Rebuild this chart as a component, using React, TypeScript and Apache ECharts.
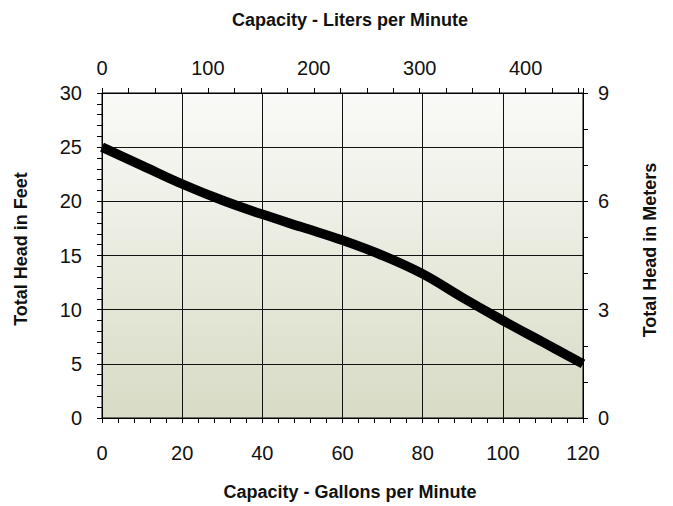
import React, { useEffect, useRef } from "react";
import * as echarts from "echarts";

const gpm = [0, 10, 20, 30, 40, 50, 60, 70, 80, 90, 100, 110, 120];
const feet = [25, 23.3, 21.6, 20.1, 18.8, 17.6, 16.4, 15.0, 13.3, 11.1, 9.0, 7.0, 5.0];

const gpmTicks = { min: 0, max: 120, interval: 20 };
const feetTicks = { min: 0, max: 30, interval: 5 };
const meterTicks = { min: 0, max: 9, interval: 3 };
const literTicks = { min: 0, max: 454.2, interval: 100 };

const titles = {
  top: "Capacity - Liters per Minute",
  bottom: "Capacity - Gallons per Minute",
  left: "Total Head in Feet",
  right: "Total Head in Meters",
};

const FONT = "'Liberation Sans', Arial, Helvetica, sans-serif";
const TITLE_FONT = `bold 18px ${FONT}`;

export default function App() {
  const ref = useRef<HTMLDivElement>(null);
  useEffect(() => {
    if (!ref.current) return;
    const chart = echarts.init(ref.current, null, { renderer: "svg" });
    const axisCommon = {
      axisLine: { show: true, onZero: false, lineStyle: { color: "#000", width: 1 } },
      axisTick: { show: true, inside: false, length: 5, lineStyle: { color: "#000", width: 1 } },
      minorTick: { show: true, length: 5, lineStyle: { color: "#000", width: 1 } },
      axisLabel: { color: "#111", fontSize: 20, fontFamily: FONT },
    };
    const titleText = (text: string, x: number, y: number, rotation: number) => ({
      type: "text",
      x,
      y,
      rotation,
      style: {
        text,
        font: TITLE_FONT,
        fill: "#111",
        align: "center",
        verticalAlign: "middle",
      },
    });
    chart.setOption({
      animation: false,
      backgroundColor: "#fff",
      textStyle: { fontFamily: FONT },
      grid: {
        left: 102,
        right: 90,
        top: 93,
        bottom: 88,
        show: true,
        borderColor: "#000",
        borderWidth: 1,
        backgroundColor: new echarts.graphic.LinearGradient(0, 0, 0, 1, [
          { offset: 0, color: "#fafaf8" },
          { offset: 1, color: "#d8dbc5" },
        ]),
      },
      graphic: [
        titleText(titles.top, 350, 20, 0),
        titleText(titles.bottom, 350, 492, 0),
        titleText(titles.left, 21, 249, Math.PI / 2),
        titleText(titles.right, 650, 250, Math.PI / 2),
      ],
      xAxis: [
        {
          ...axisCommon,
          type: "value",
          position: "bottom",
          min: gpmTicks.min,
          max: gpmTicks.max,
          interval: gpmTicks.interval,
          minorTick: { ...axisCommon.minorTick, splitNumber: 5 },
          splitLine: { show: true, lineStyle: { color: "#111", width: 1 } },
          axisLabel: { ...axisCommon.axisLabel, margin: 25 },
        },
        {
          ...axisCommon,
          type: "value",
          position: "top",
          min: literTicks.min,
          max: literTicks.max,
          interval: literTicks.interval,
          minorTick: { ...axisCommon.minorTick, splitNumber: 4 },
          splitLine: { show: false },
          axisLabel: {
            ...axisCommon.axisLabel,
            margin: 15,
            formatter: (v: number) => (v % 100 === 0 ? String(v) : ""),
          },
        },
      ],
      yAxis: [
        {
          ...axisCommon,
          type: "value",
          position: "left",
          min: feetTicks.min,
          max: feetTicks.max,
          interval: feetTicks.interval,
          minorTick: { ...axisCommon.minorTick, splitNumber: 5 },
          splitLine: { show: true, lineStyle: { color: "#111", width: 1 } },
          axisLabel: { ...axisCommon.axisLabel, margin: 20 },
        },
        {
          ...axisCommon,
          type: "value",
          position: "right",
          min: meterTicks.min,
          max: meterTicks.max,
          interval: meterTicks.interval,
          minorTick: { ...axisCommon.minorTick, splitNumber: 3 },
          splitLine: { show: false },
          axisLabel: { ...axisCommon.axisLabel, margin: 15 },
        },
      ],
      series: [
        {
          type: "line",
          xAxisIndex: 0,
          yAxisIndex: 0,
          data: gpm.map((g, i) => [g, feet[i]]),
          smooth: 0.4,
          showSymbol: false,
          symbol: "none",
          clip: true,
          lineStyle: { color: "#000", width: 9.5, cap: "butt", join: "round" },
        },
      ],
    });
    return () => chart.dispose();
  }, []);
  return (
    <div
      ref={ref}
      style={{ position: "fixed", left: 0, top: 0, width: 673, height: 506 }}
    />
  );
}
